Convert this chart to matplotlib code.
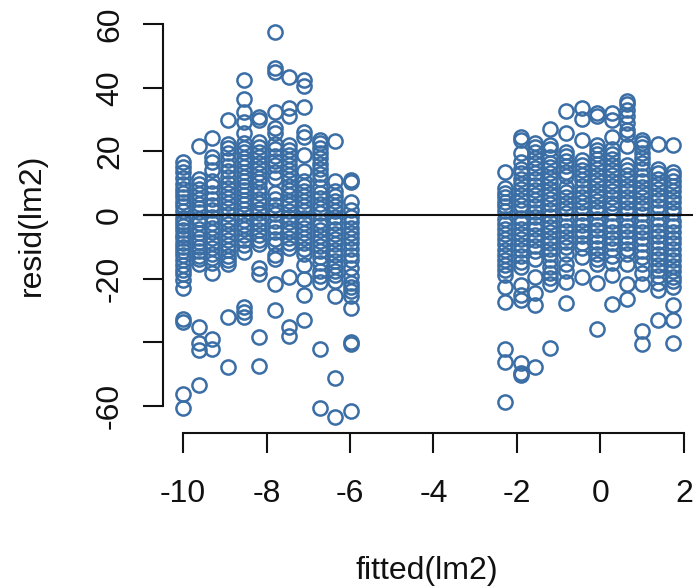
import matplotlib
matplotlib.use('Agg')
import matplotlib.pyplot as plt

plt.rcParams['font.family'] = ['Liberation Sans', 'DejaVu Sans']
plt.rcParams['axes.unicode_minus'] = False

# fitted value of each column of points and its residuals
fitted_left = [-10.0, -9.63, -9.3, -8.93, -8.55, -8.17, -7.8, -7.45, -7.1, -6.72, -6.35, -5.98]
fitted_right = [-2.29, -1.91, -1.56, -1.2, -0.83, -0.44, -0.08, 0.28, 0.63, 1.0, 1.37, 1.75]

resid_left = [
    [16.8, 15.2, 13.4, 11.6, 9.8, 8.3, 6.9, 5.6, 4.2, 2.8, 1.3, -0.8, -2.1, -3.4, -4.7, -6.1, -7.2, -8.6, -9.9,
     -11.2, -12.5, -14.1, -15.6, -17.2, -18.6, -20.3, -22.8, -32.5, -33.6, -56.3, -60.5],
    [21.8, 11.4, 9.8, 8.2, 6.7, 5.1, 3.6, 2.2, 0.9, -1.2, -2.6, -4.3, -5.6, -7.2, -8.4, -9.9, -11.3, -12.7, -13.8,
     -15.2, -35.2, -40.1, -42.4, -53.4],
    [24.3, 18.3, 16.7, 14.1, 10.6, 9.1, 6.8, 5.2, 3.1, 1.7, -0.6, -2.4, -3.9, -5.3, -7.1, -8.8, -10.4, -12.1, -13.6,
     -14.9, -18.2, -38.8, -42.2],
    [29.9, 22.3, 21.1, 19.6, 17.2, 15.3, 13.8, 11.9, 10.1, 8.4, 6.9, 5.5, 3.8, 2.1, 0.5, -1.4, -2.9, -4.6, -6.2,
     -7.7, -9.3, -11.1, -12.8, -14.2, -15.3, -32.1, -47.7],
    [42.6, 36.5, 32.5, 29.3, 25.7, 22.6, 21.2, 19.8, 18.1, 16.6, 15.2, 13.7, 12.1, 10.8, 9.2, 7.9, 6.3, 4.7, 3.4,
     1.8, 0.4, -1.6, -3.1, -4.4, -6.3, -7.8, -9.5, -11.5, -28.8, -30.4, -32.1],
    [30.9, 29.9, 23.1, 21.4, 19.7, 18.3, 16.4, 14.9, 13.2, 11.8, 10.3, 8.6, 6.9, 5.2, 3.7, 1.9, 0.6, -1.3, -2.8,
     -4.6, -6.1, -7.9, -9.2, -16.7, -18.4, -38.3, -47.4],
    [57.4, 46.3, 44.9, 32.5, 27.3, 25.8, 22.4, 20.9, 18.7, 17.1, 15.6, 13.4, 11.7, 6.8, 5.1, 3.3, 1.7, 0.4, -1.9,
     -3.6, -5.2, -7.4, -9.1, -12.6, -13.7, -21.7, -29.7],
    [43.5, 33.6, 31.2, 22.1, 20.4, 18.8, 17.3, 15.7, 14.2, 12.6, 10.9, 9.3, 7.8, 6.2, 4.5, 3.1, 1.2, -0.7, -2.2,
     -3.9, -5.3, -7.1, -8.7, -10.2, -19.4, -35.3, -38.1],
    [42.5, 40.6, 34.1, 26.2, 24.6, 18.9, 13.9, 10.8, 9.2, 7.6, 6.1, 4.4, 2.9, 1.3, -0.9, -2.4, -4.1, -5.7, -7.2,
     -8.9, -10.6, -12.3, -15.7, -20.1, -25.2, -33.1],
    [23.6, 22.7, 21.1, 19.4, 17.8, 16.2, 14.6, 12.8, 11.2, 8.7, 6.9, 5.3, 3.6, 2.2, 0.6, -1.7, -3.1, -4.8, -6.4,
     -8.2, -9.7, -11.4, -13.2, -15.1, -17.6, -19.2, -21.1, -42.2, -60.6],
    [23.3, 10.7, 7.6, 6.1, 4.4, 2.8, 1.2, -0.7, -2.5, -4.2, -5.8, -7.4, -9.1, -10.8, -12.6, -14.3, -16.1, -17.7,
     -18.9, -20.7, -25.4, -51.2, -63.5],
    [11.1, 10.4, 4.2, 1.6, -0.6, -2.3, -3.9, -5.6, -7.3, -8.9, -10.7, -12.4, -14.1, -16.6, -19.2, -21.3, -22.6,
     -23.9, -25.4, -29.1, -39.8, -40.6, -61.5],
]

resid_right = [
    [13.6, 8.5, 7.1, 5.8, 4.2, 2.9, 1.4, -1.1, -2.7, -4.3, -5.9, -7.6, -9.2, -10.8, -12.4, -14.1, -15.8, -17.3,
     -18.9, -22.6, -27.2, -42.2, -46.1, -58.6],
    [24.4, 23.5, 19.4, 16.7, 14.6, 13.2, 11.3, 9.7, 8.1, 6.4, 4.8, 3.2, 1.5, -0.9, -2.6, -4.2, -5.9, -7.6, -9.3,
     -11.1, -12.8, -14.7, -16.2, -21.8, -25.1, -26.7, -46.6, -49.6, -50.3],
    [22.6, 21.4, 19.8, 18.1, 16.3, 14.7, 13.2, 11.4, 9.6, 7.9, 6.2, 4.7, 2.8, 1.1, -0.6, -2.7, -4.4, -6.1, -7.8,
     -9.6, -11.2, -13.7, -19.4, -24.6, -28.1, -47.8],
    [27.2, 22.1, 20.7, 18.4, 16.3, 15.1, 13.3, 11.6, 10.1, 8.3, 6.7, 5.2, 3.4, 1.7, -0.4, -2.2, -3.8, -5.4, -7.1,
     -8.8, -10.6, -12.3, -14.1, -16.2, -18.2, -19.8, -21.6, -41.8],
    [32.8, 25.9, 19.9, 18.6, 16.9, 15.3, 13.7, 12.2, 8.9, 7.4, 5.6, 3.9, 2.2, 0.7, -1.5, -3.3, -5.1, -6.9, -8.4,
     -10.1, -12.3, -15.2, -17.4, -21.1, -27.5],
    [33.6, 30.1, 23.7, 17.4, 15.8, 14.2, 12.5, 10.9, 9.1, 7.3, 5.8, 4.1, 2.6, 0.8, -1.4, -3.2, -4.9, -6.7, -8.6,
     -10.4, -13.3, -19.4],
    [32.1, 31.2, 22.1, 20.6, 19.1, 17.6, 16.2, 14.4, 12.7, 11.1, 9.4, 7.7, 5.9, 4.3, 2.6, 0.9, -1.3, -3.1, -4.8,
     -6.6, -8.3, -10.2, -12.1, -13.9, -15.4, -21.2, -35.7],
    [32.1, 29.9, 24.4, 20.8, 19.3, 17.7, 15.9, 14.3, 12.6, 10.8, 9.1, 7.6, 5.7, 3.9, 2.4, 0.6, -1.7, -3.4, -5.2,
     -7.1, -8.8, -10.6, -12.7, -15.1, -18.9, -27.8],
    [35.9, 34.8, 33.1, 31.2, 29.1, 26.9, 25.4, 21.7, 15.8, 14.2, 12.5, 10.9, 9.2, 7.6, 5.8, 4.1, 2.3, 0.7, -1.6,
     -3.4, -5.1, -6.9, -8.7, -10.5, -12.1, -15.2, -21.5, -26.2],
    [23.7, 22.6, 21.4, 19.6, 18.1, 16.4, 14.6, 12.2, 10.7, 8.9, 7.2, 5.6, 3.8, 2.1, 0.3, -1.8, -3.6, -5.4, -7.2,
     -9.1, -11.2, -13.3, -15.4, -18.1, -21.5, -36.4, -40.5],
    [22.3, 14.4, 13.2, 11.5, 9.7, 8.1, 6.3, 4.6, 2.8, 1.1, -1.2, -3.1, -4.9, -6.6, -8.4, -10.3, -12.1, -13.9,
     -15.7, -17.3, -19.1, -21.2, -23.6, -33.1],
    [22.1, 13.6, 12.4, 10.8, 9.1, 7.5, 5.8, 4.1, 2.3, 0.6, -1.8, -3.5, -5.2, -7.1, -8.9, -10.7, -12.4, -14.2,
     -15.9, -17.6, -19.4, -20.8, -22.6, -28.3, -33.1, -40.2],
]

y_ticks = [-60, -40, -20, 0, 20, 40, 60]
y_labels = ['-60', '', '-20', '0', '20', '40', '60']
x_ticks = [-10, -8, -6, -4, -2, 0, 2]
x_labels = ['-10', '-8', '-6', '-4', '-2', '0', '2']

W, H = 693, 587
fig = plt.figure(figsize=(W / 100, H / 100), dpi=100)
ax = fig.add_axes([143 / W, 1 - 432.5 / H, 550 / W, 432.5 / H])
ax.set_xlim(-10.96, 2.22)
ax.set_ylim(-68.3, 67.6)

blue = '#3a6ea5'
for xs, groups in ((fitted_left, resid_left), (fitted_right, resid_right)):
    for x, vals in zip(xs, groups):
        ax.plot([x] * len(vals), vals, 'o', ms=10.2, mfc='none', mec=blue, mew=1.8, clip_on=False)

ax.axhline(0, color='#111111', lw=1.5, zorder=5)

for s in ('top', 'right'):
    ax.spines[s].set_visible(False)
ax.spines['left'].set_position(('data', -10.48))
ax.spines['left'].set_bounds(-60, 60)
ax.spines['bottom'].set_bounds(-10, 2)
ax.spines['left'].set_linewidth(1.5)
ax.spines['bottom'].set_linewidth(1.5)
ax.spines['left'].set_color('#111111')
ax.spines['bottom'].set_color('#111111')

ax.set_yticks(y_ticks, y_labels, rotation=90, va='center')
ax.set_xticks(x_ticks, x_labels)
ax.tick_params(axis='both', length=14.4, width=1.5, labelsize=23, color='#111111', labelcolor='#111111')
ax.tick_params(axis='y', pad=13)
ax.tick_params(axis='x', pad=19)

fig.text(427 / W, 1 - 571 / H, 'fitted(lm2)', fontsize=23, ha='center', va='center', color='#111111')
fig.text(32 / W, 1 - 225 / H, 'resid(lm2)', fontsize=23, rotation=90, ha='center', va='center', color='#111111')

fig.savefig('out.png', dpi=100)
